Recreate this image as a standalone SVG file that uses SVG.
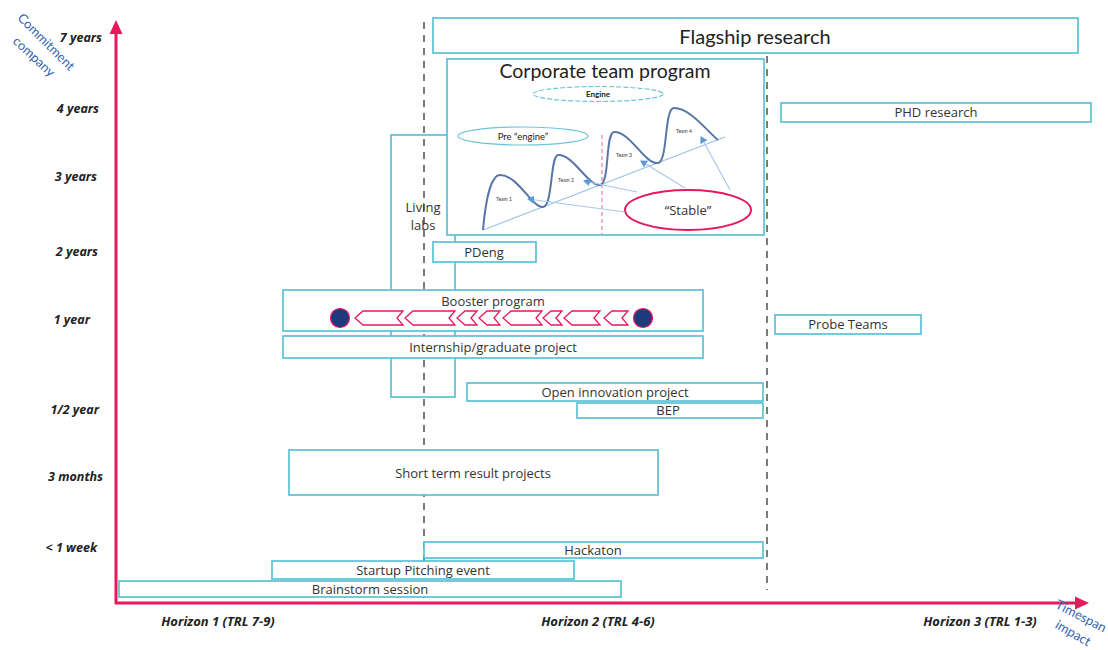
<svg xmlns="http://www.w3.org/2000/svg" width="1108" height="650" viewBox="0 0 1108 650">
<style>
.box{fill:#fff;stroke:#4fbfd4;stroke-width:1.6}
.t{font-family:"Open Sans","Noto Sans","Liberation Sans",sans-serif;fill:#333;text-anchor:middle;font-size:13px}
.c{font-family:Lato,"Noto Sans","Liberation Sans",sans-serif;fill:#222;text-anchor:middle}
.ax{font-family:"Open Sans","Liberation Sans",sans-serif;font-weight:bold;font-style:italic;font-size:12.5px;fill:#222;text-anchor:end}
.hz{font-family:"Open Sans","Liberation Sans",sans-serif;font-weight:bold;font-style:italic;font-size:13px;fill:#222;text-anchor:middle}
.blue{font-family:Lato,"Liberation Sans",sans-serif;font-size:13px;fill:#3565b0;text-anchor:middle}
.dash{stroke:#7a7a7a;stroke-width:2;stroke-dasharray:7,6;fill:none}
.chev{fill:#fff;stroke:#e8195a;stroke-width:1.3}
.arr{stroke:#a9c8ea;stroke-width:1.2;fill:none;marker-end:url(#ah)}
.team{font-family:Lato,"Liberation Sans",sans-serif;font-size:5px;fill:#333;text-anchor:middle}
</style>
<defs>
<marker id="ah" markerWidth="8" markerHeight="8" refX="6" refY="4" orient="auto" markerUnits="userSpaceOnUse">
<path d="M0,0 L7,4 L0,8 z" fill="#5b9bd5"/>
</marker>
</defs>
<rect width="1108" height="650" fill="#fff"/>

<g id="axes">
<line x1="116" y1="604" x2="116" y2="32" stroke="#e8195a" stroke-width="3"/>
<path d="M116,20 L109.5,34 L122.5,34 z" fill="#e8195a"/>
<line x1="115" y1="603" x2="1076" y2="603" stroke="#e8195a" stroke-width="3"/>
<path d="M1089,603 L1075,596.5 L1075,609.5 z" fill="#e8195a"/>
<text class="ax" x="102" y="42">7  years</text>
<text class="ax" x="99" y="113">4  years</text>
<text class="ax" x="97" y="181">3  years</text>
<text class="ax" x="98" y="256">2  years</text>
<text class="ax" x="90" y="324">1  year</text>
<text class="ax" x="99" y="414">1/2  year</text>
<text class="ax" x="103" y="481">3 months</text>
<text class="ax" x="97" y="552">&lt; 1 week</text>
<text class="hz" x="218" y="626">Horizon 1  (TRL 7-9)</text>
<text class="hz" x="598" y="626">Horizon 2 (TRL 4-6)</text>
<text class="hz" x="980" y="626">Horizon 3 (TRL 1-3)</text>
<text class="blue" transform="translate(43,45) rotate(45)">Commitment</text>
<text class="blue" transform="translate(31,60) rotate(43)">company</text>
<text class="blue" font-size="12" transform="translate(1079,620) rotate(27)">Timespan</text>
<text class="blue" font-size="12" transform="translate(1071,637) rotate(30)">impact</text>
</g>

<g id="horizon-dividers">
<line class="dash" x1="424" y1="22" x2="424" y2="598"/>
<line class="dash" x1="767" y1="56" x2="767" y2="590"/>
</g>

<g id="living-labs">
<rect x="391" y="135" width="64" height="262" fill="none" stroke="#4fbfd4" stroke-width="1.6"/>
<text class="t" x="423" y="212">Living</text>
<text class="t" x="423" y="230">labs</text>
</g>

<g id="flagship-research">
<rect class="box" x="433" y="18" width="645" height="35"/>
<text class="c" x="755" y="44" font-size="20">Flagship research</text>
</g>

<g id="corporate-team-program">
<rect class="box" x="447" y="59" width="317" height="176"/>
<text class="c" x="605" y="78" font-size="19.5">Corporate team program</text>
<ellipse cx="598" cy="94" rx="65" ry="7.5" fill="none" stroke="#6cc6d8" stroke-width="1.2" stroke-dasharray="5,2"/>
<text class="c" x="598" y="97" font-size="8" font-weight="bold">Engine</text>
<ellipse cx="523" cy="136" rx="65" ry="9" fill="none" stroke="#6cc6d8" stroke-width="1.2"/>
<text class="c" x="523" y="139.5" font-size="9.5">Pre “engine”</text>
<line x1="602" y1="135" x2="602" y2="235" stroke="#f07fa3" stroke-width="1.2" stroke-dasharray="4,3"/>
<line x1="483" y1="230" x2="725" y2="137" stroke="#9dc0e8" stroke-width="1.2"/>
<path d="M483,230 C486,195 492,175 500,175 C518,175 532,208 543,207 C553,206 550,156 558,155 C573,154 588,186 600,185 C610,184 605,133 614,132 C630,131 645,165 658,163 C668,162 664,108 674,108 C690,108 706,130 718,140" fill="none" stroke="#5877a8" stroke-width="2"/>
<text class="team" x="504" y="201">Team 1</text>
<text class="team" x="566" y="182">Team 2</text>
<text class="team" x="624" y="157">Team 3</text>
<text class="team" x="684" y="133">Team 4</text>
<ellipse cx="688" cy="210" rx="63" ry="20" fill="#fff" stroke="#e8195a" stroke-width="2"/>
<text class="t" x="688" y="215" font-size="14">“Stable”</text>
</g>

<g id="connectors">
<line class="arr" x1="625" y1="212" x2="528" y2="199"/>
<line class="arr" x1="637" y1="192" x2="584" y2="181"/>
<line class="arr" x1="685" y1="188" x2="641" y2="161"/>
<line class="arr" x1="730" y1="190" x2="701" y2="137"/>
</g>

<g id="phd-research">
<rect class="box" x="781" y="103" width="310" height="19"/>
<text class="t" x="936" y="117">PHD research</text>
</g>

<g id="pdeng">
<rect class="box" x="433" y="242" width="103" height="20"/>
<text class="t" x="484" y="257">PDeng</text>
</g>

<g id="booster-program">
<rect class="box" x="283" y="290" width="420" height="41"/>
<text class="t" x="493" y="306">Booster program</text>
<circle cx="340" cy="318" r="9.5" fill="#1d3a7c" stroke="#e8195a" stroke-width="1.2"/>
<circle cx="643" cy="318" r="9.5" fill="#1d3a7c" stroke="#e8195a" stroke-width="1.2"/>
<polygon class="chev" points="355,318 363,311 403,311 397,318 403,325 363,325"/>
<polygon class="chev" points="405,318 413,311 455,311 449,318 455,325 413,325"/>
<polygon class="chev" points="457,318 465,311 477,311 471,318 477,325 465,325"/>
<polygon class="chev" points="479,318 487,311 500,311 494,318 500,325 487,325"/>
<polygon class="chev" points="503,318 511,311 542,311 536,318 542,325 511,325"/>
<polygon class="chev" points="543,318 551,311 562,311 556,318 562,325 551,325"/>
<polygon class="chev" points="564,318 572,311 600,311 594,318 600,325 572,325"/>
<polygon class="chev" points="604,318 612,311 628,311 622,318 628,325 612,325"/>
</g>

<g id="internship-graduate-project">
<rect class="box" x="283" y="336" width="420" height="22"/>
<text class="t" x="493" y="352">Internship/graduate project</text>
</g>

<g id="probe-teams">
<rect class="box" x="775" y="315" width="146" height="19"/>
<text class="t" x="848" y="329">Probe Teams</text>
</g>

<g id="open-innovation-project">
<rect class="box" x="467" y="383" width="296" height="18"/>
<text class="t" x="615" y="397">Open innovation project</text>
</g>

<g id="bep">
<rect class="box" x="577" y="403" width="186" height="15"/>
<text class="t" x="668" y="415" font-size="12.5">BEP</text>
</g>

<g id="short-term-result-projects">
<rect class="box" x="289" y="450" width="369" height="45"/>
<text class="t" x="473" y="478" font-size="14">Short term result projects</text>
</g>

<g id="hackaton">
<rect class="box" x="424" y="542" width="339" height="16"/>
<text class="t" x="593" y="555">Hackaton</text>
</g>

<g id="startup-pitching-event">
<rect class="box" x="272" y="561" width="302" height="18"/>
<text class="t" x="423" y="575">Startup Pitching event</text>
</g>

<g id="brainstorm-session">
<rect class="box" x="119" y="581" width="502" height="16"/>
<text class="t" x="370" y="594">Brainstorm session</text>
</g>
</svg>
